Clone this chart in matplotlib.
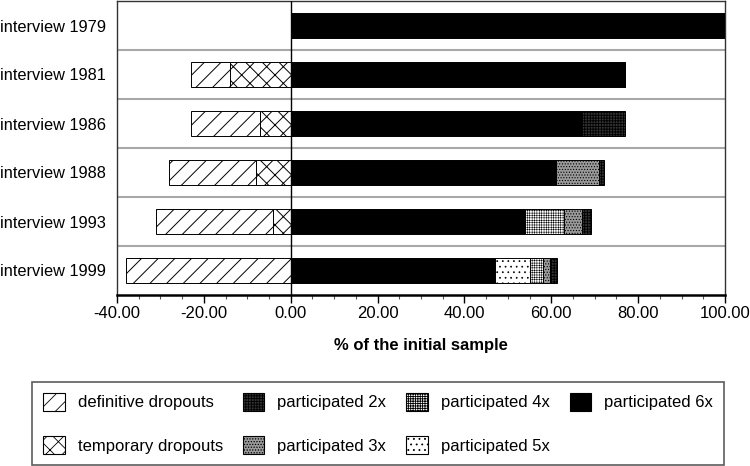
import matplotlib
matplotlib.use("Agg")
import matplotlib.pyplot as plt
from matplotlib.patches import Patch
from matplotlib.ticker import MultipleLocator, FormatStrFormatter

plt.rcParams['font.family'] = ['Liberation Sans', 'DejaVu Sans']
plt.rcParams['hatch.linewidth'] = 0.6

categories = ['interview 1979', 'interview 1981', 'interview 1986',
              'interview 1988', 'interview 1993', 'interview 1999']
definitive = [0, 9, 16, 20, 27, 38]
temporary = [0, 14, 7, 8, 4, 0]
p6 = [100, 77, 67, 61, 54, 47]
p5 = [0, 0, 0, 0, 0, 8]
p4 = [0, 0, 0, 0, 9, 3]
p3 = [0, 0, 0, 10, 4, 1.7]
p2 = [0, 0, 10, 1.2, 2.2, 1.6]

styles = {
    'definitive dropouts': dict(facecolor='white', hatch='//', hlw=0.7),
    'temporary dropouts': dict(facecolor='white', hatch='xx', hlw=0.7),
    'participated 2x': dict(facecolor='#333333', hatch='++++++', hlw=0.6),
    'participated 3x': dict(facecolor='#9a9a9a', hatch='......', hlw=0.5),
    'participated 4x': dict(facecolor='white', hatch='+++++++', hlw=0.35),
    'participated 5x': dict(facecolor='white', hatch='...', hlw=0.5),
    'participated 6x': dict(facecolor='black', hatch=None, hlw=0.5),
}

def set_hlw(patch, lw):
    try:
        patch.set_hatch_linewidth(lw)
    except Exception:
        pass

fig = plt.figure(figsize=(7.5, 4.66), dpi=100)
ax = fig.add_axes([117/750, (466-295)/466, (725-117)/750, (295-1)/466])

y = list(range(len(categories)))
h = 0.5

def draw(left, width, name):
    st = styles[name]
    with plt.rc_context({'hatch.linewidth': st['hlw']}):
        bars = ax.barh(y, width, left=left, height=h, facecolor=st['facecolor'],
                       hatch=st['hatch'], edgecolor='black', linewidth=0.7, zorder=3)
    for b in bars:
        set_hlw(b, st['hlw'])

# negative side
neg_temp_left = [-t for t in temporary]
draw(neg_temp_left, temporary, 'temporary dropouts')
neg_def_left = [-(t + d) for t, d in zip(temporary, definitive)]
draw(neg_def_left, definitive, 'definitive dropouts')

# positive side
left = [0] * len(categories)
for vals, name in [(p6, 'participated 6x'), (p5, 'participated 5x'),
                   (p4, 'participated 4x'), (p3, 'participated 3x'),
                   (p2, 'participated 2x')]:
    draw(left, vals, name)
    left = [a + b for a, b in zip(left, vals)]

ax.set_xlim(-40, 100)
ax.set_ylim(len(categories) - 0.5, -0.5)
ax.set_yticks(y)
ax.set_yticklabels(categories, fontsize=11.8)
ax.tick_params(axis='y', length=0, pad=8)
ax.xaxis.set_major_locator(MultipleLocator(20))
ax.xaxis.set_minor_locator(MultipleLocator(5))
ax.xaxis.set_major_formatter(FormatStrFormatter('%.2f'))
ax.tick_params(axis='x', which='major', length=6, width=1.0, labelsize=12, pad=2)
ax.tick_params(axis='x', which='minor', length=3, width=0.8, color='#555555')

for i in range(1, len(categories)):
    ax.axhline(i - 0.5, color='#a8a8a8', linewidth=1.5, zorder=1)
ax.axvline(0, color='black', linewidth=1.0, zorder=4)

for s in ['top', 'left', 'right']:
    ax.spines[s].set_linewidth(1.0)
    ax.spines[s].set_color('#333333')
ax.spines['bottom'].set_linewidth(1.8)

ax.set_xlabel('% of the initial sample', fontsize=12, fontweight='bold', labelpad=12)

order = ['definitive dropouts', 'temporary dropouts', 'participated 2x',
         'participated 3x', 'participated 4x', 'participated 5x', 'participated 6x']
handles = []
for n in order:
    st = styles[n]
    with plt.rc_context({'hatch.linewidth': st['hlw']}):
        p = Patch(facecolor=st['facecolor'], hatch=st['hatch'],
                  edgecolor='black', linewidth=0.8, label=n)
    set_hlw(p, st['hlw'])
    handles.append(p)

leg = fig.legend(handles=handles, ncol=4, loc='lower left',
                 bbox_to_anchor=(32/750, 1/466, (724-32)/750, (465-380)/466),
                 mode='expand', fontsize=12, frameon=True, fancybox=False,
                 edgecolor='#333333', handlelength=1.3, handleheight=1.3,
                 handletextpad=0.78, columnspacing=1.1, labelspacing=1.5,
                 borderpad=0.65, borderaxespad=0)
leg.get_frame().set_linewidth(1.2)

fig.savefig('out.png', dpi=100)
